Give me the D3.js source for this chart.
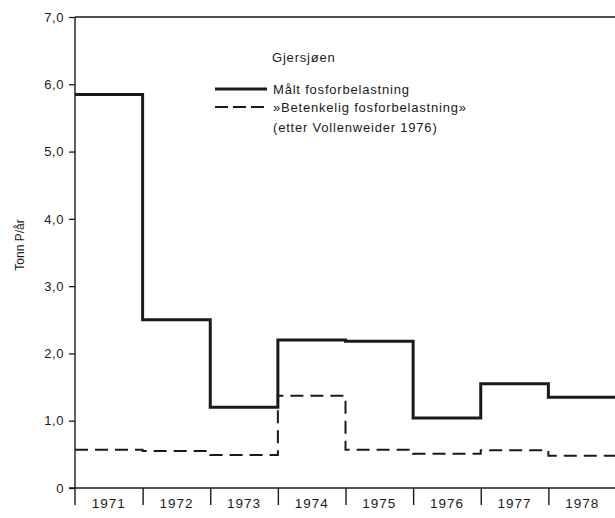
<!DOCTYPE html>
<html>
<head>
<meta charset="utf-8">
<script src="https://cdn.jsdelivr.net/npm/d3@7"></script>
<style>
  body { margin: 0; background: #fff; }
  text { font-family: "Liberation Sans", Arial, sans-serif; fill: #1a1a1a; }
</style>
</head>
<body>
<div id="chart"></div>
<script>
// Title Data
const years = [1971, 1972, 1973, 1974, 1975, 1976, 1977, 1978];
const measured = [5.85, 2.5, 1.2, 2.2, 2.18, 1.04, 1.55, 1.35];
const critical = [0.57, 0.55, 0.49, 1.37, 0.57, 0.51, 0.56, 0.48];
const yTicks = [0, 1, 2, 3, 4, 5, 6, 7];

const width = 615;
const height = 518;

const svg = d3.select("#chart")
    .append("svg")
    .attr("width", width)
    .attr("height", height);

const x = d3.scaleLinear()
    .domain([1971, 1979])
    .range([75, 616]);

const y = d3.scaleLinear()
    .domain([0, 7])
    .range([488, 17]);

// Title Axes
const yAxis = svg.append("g")
    .attr("transform", `translate(${x(1971)},0)`)
    .call(d3.axisLeft(y)
        .tickValues(yTicks)
        .tickSize(6)
        .tickPadding(5)
        .tickFormat(d => d === 0 ? "0" : d.toFixed(1).replace(".", ",")));
yAxis.attr("font-family", null).attr("font-size", null);
yAxis.select(".domain").remove();
yAxis.selectAll("line").attr("stroke", "#1a1a1a").attr("stroke-width", 1.3);
yAxis.selectAll("text")
    .style("font-size", "13px")
    .style("letter-spacing", "0.6px");

// left axis line, extends below zero
svg.append("line")
    .attr("x1", x(1971)).attr("x2", x(1971))
    .attr("y1", y(7)).attr("y2", y(0) + 17)
    .attr("stroke", "#1a1a1a")
    .attr("stroke-width", 1.4);

// top frame line
svg.append("line")
    .attr("x1", x(1971)).attr("x2", width)
    .attr("y1", y(7)).attr("y2", y(7))
    .attr("stroke", "#1a1a1a")
    .attr("stroke-width", 1.3);

// bottom axis with year boundary ticks
const xAxis = svg.append("g")
    .attr("transform", `translate(0,${y(0)})`)
    .call(d3.axisBottom(x)
        .tickValues(years.slice(1))
        .tickSize(17)
        .tickFormat(""));
xAxis.select(".domain")
    .attr("d", `M${x(1971) - 6},0H${width}`)
    .attr("stroke", "#1a1a1a")
    .attr("stroke-width", 1.4);
xAxis.selectAll("line").attr("stroke", "#1a1a1a").attr("stroke-width", 1.4);

svg.append("g")
    .selectAll("text")
    .data(years)
    .join("text")
    .attr("x", d => x(d + 0.5))
    .attr("y", y(0) + 20)
    .attr("text-anchor", "middle")
    .style("font-size", "13.5px")
    .style("letter-spacing", "1px")
    .text(d => d);

svg.append("text")
    .attr("transform", `translate(24,245) rotate(-90)`)
    .attr("text-anchor", "middle")
    .style("font-size", "12px")
    .text("Tonn P/år");

// Title Step lines
const step = d3.line()
    .x(d => x(d[0]))
    .y(d => y(d[1]))
    .curve(d3.curveStepAfter);

function stepData(values) {
    const pts = years.map((yr, i) => [yr, values[i]]);
    pts.push([1979, values[values.length - 1]]);
    return pts;
}

svg.append("path")
    .datum(stepData(critical))
    .attr("d", step)
    .attr("fill", "none")
    .attr("stroke", "#1a1a1a")
    .attr("stroke-width", 2)
    .attr("stroke-dasharray", "13,7");

svg.append("path")
    .datum(stepData(measured))
    .attr("d", step)
    .attr("fill", "none")
    .attr("stroke", "#1a1a1a")
    .attr("stroke-width", 3);

// Title Legend
svg.append("text")
    .attr("x", 272)
    .attr("y", 62)
    .style("font-size", "13px")
    .style("letter-spacing", "0.8px")
    .text("Gjersjøen");

const legendItems = [
    { label: "Målt fosforbelastning", dash: null, w: 3 },
    { label: "»Betenkelig fosforbelastning»", dash: "13,5", w: 2 }
];

legendItems.forEach(function(d, i) {
    svg.append("line")
        .attr("x1", 215).attr("x2", 267)
        .attr("y1", 89 + 18 * i).attr("y2", 89 + 18 * i)
        .attr("stroke", "#1a1a1a")
        .attr("stroke-width", d.w)
        .attr("stroke-dasharray", d.dash);

    svg.append("text")
        .attr("x", 273)
        .attr("y", 94 + 18 * i)
        .style("font-size", "13px")
        .style("letter-spacing", "0.8px")
        .text(d.label);
});

svg.append("text")
    .attr("x", 273)
    .attr("y", 132)
    .style("font-size", "13px")
    .style("letter-spacing", "0.8px")
    .text("(etter Vollenweider 1976)");
</script>
</body>
</html>
